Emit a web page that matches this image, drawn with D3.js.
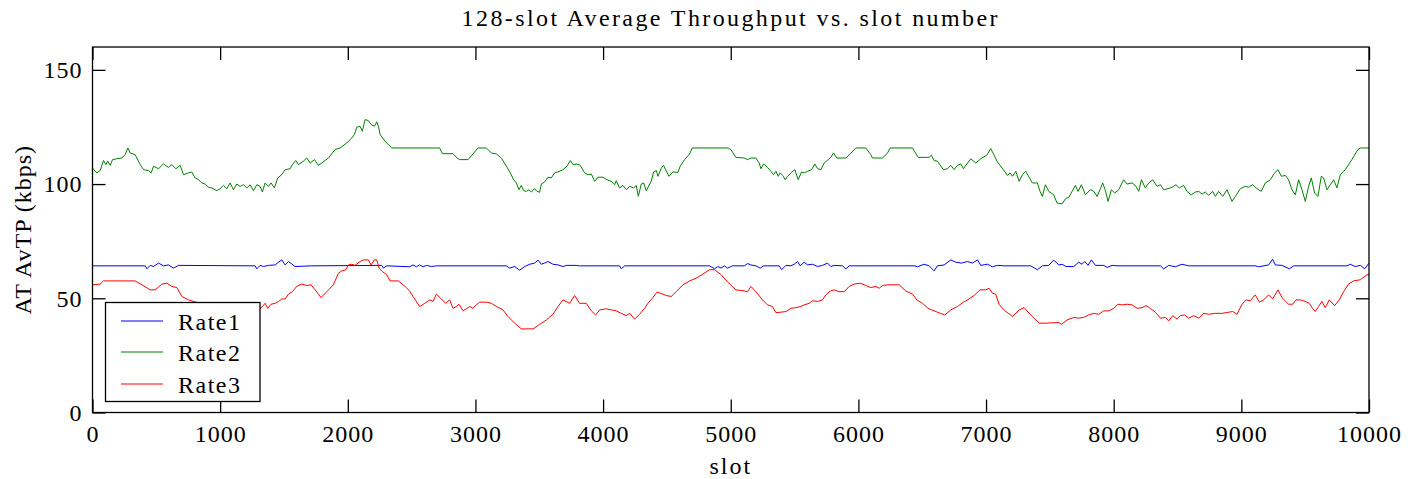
<!DOCTYPE html>
<html>
<head>
<meta charset="utf-8">
<script src="https://cdn.jsdelivr.net/npm/d3@7"></script>
<style>
  html, body { margin: 0; padding: 0; background: #fff; }
  svg { display: block; }
  text { font-family: "Liberation Serif", "Times New Roman", serif; fill: #000; }
</style>
</head>
<body>
<svg id="chart" width="1412" height="479"></svg>
<script>
// 128-slot average throughput per rate class, [slot, kbps]
const rate1 = [[0,64.2],[413,64.2],[426,62.9],[452,64.4],[478,63.9],[517,65.4],[556,64.2],[595,64.6],[635,63.2],[674,64.4],[1274,64.2],[1287,62.9],[1313,64.4],[1339,63.9],[1378,64.4],[1431,64.6],[1457,65.8],[1483,66.8],[1509,64.6],[1535,66.1],[1587,63.9],[1718,64.2],[2266,64.4],[2279,63.2],[2305,64.2],[2485,63.8],[2511,64.6],[2537,63.8],[2563,64.6],[2590,63.8],[2616,64.4],[2655,63.9],[2694,64.2],[3242,64.2],[3268,63.2],[3307,63.9],[3346,62.3],[3386,63.9],[3425,64.9],[3464,65.4],[3490,66.7],[3516,64.9],[3542,65.4],[3568,66.1],[3607,64.9],[3647,64.6],[3686,63.9],[3712,64.4],[3790,64.4],[3816,64.2],[4129,64.2],[4142,62.9],[4169,64.2],[4834,64.2],[4873,62.9],[4899,63.9],[4925,63.2],[4950,64.2],[4975,63.2],[5014,64.2],[5106,64.2],[5132,65.2],[5158,64.6],[5197,64.2],[5231,63.2],[5257,64.2],[5380,64.2],[5398,62.5],[5432,64.4],[5471,64.2],[5497,64.9],[5523,66.1],[5544,64.2],[5575,65.8],[5602,64.6],[5641,64.9],[5680,63.9],[5719,64.4],[5758,65.4],[5784,63.9],[5810,64.4],[5876,64.2],[5902,62.9],[5928,64.2],[6437,64.2],[6463,63.8],[6515,64.9],[6554,64.2],[6593,62.0],[6619,64.2],[6672,64.6],[6724,66.8],[6763,65.8],[6807,65.4],[6854,66.1],[6893,65.4],[6933,66.8],[6959,64.4],[7011,64.9],[7050,63.8],[7089,64.4],[7141,64.2],[7350,64.2],[7402,62.5],[7441,64.2],[7491,64.4],[7530,66.7],[7570,64.6],[7596,64.9],[7627,63.9],[7687,63.9],[7726,65.8],[7752,64.9],[7773,66.1],[7799,64.4],[7825,66.8],[7857,64.4],[7922,64.4],[7948,63.5],[7987,64.4],[8026,64.2],[8366,64.2],[8392,62.9],[8431,64.4],[8483,63.8],[8535,64.9],[8587,64.2],[9109,64.2],[9136,63.8],[9214,64.6],[9245,67.1],[9266,64.6],[9318,64.4],[9376,62.9],[9410,64.2],[9827,64.2],[9853,64.9],[9892,63.9],[9932,64.4],[9966,62.9],[10000,65.4]];

const rate2 = [[0,107.0],[34,104.9],[60,105.9],[86,110.3],[105,108.5],[120,110.0],[139,108.2],[157,110.7],[191,111.1],[230,111.4],[256,112.9],[277,115.8],[295,113.6],[334,112.9],[374,108.5],[400,106.3],[439,105.9],[460,104.9],[478,107.8],[517,106.7],[556,108.8],[595,107.3],[622,108.5],[653,106.7],[687,108.2],[713,104.1],[752,104.9],[778,105.3],[804,102.7],[830,101.9],[856,100.5],[883,100.0],[909,98.6],[935,98.3],[974,97.1],[1000,98.0],[1026,99.4],[1052,98.0],[1078,100.5],[1104,97.5],[1130,100.0],[1157,99.0],[1183,99.7],[1209,98.3],[1235,99.7],[1261,97.1],[1287,99.7],[1313,99.0],[1331,96.5],[1352,100.5],[1378,99.0],[1399,100.5],[1425,98.3],[1451,102.7],[1483,104.1],[1509,106.3],[1548,106.7],[1566,108.5],[1592,110.3],[1613,108.5],[1652,110.0],[1679,111.4],[1705,109.2],[1739,110.7],[1770,108.2],[1796,109.2],[1848,111.4],[1900,115.1],[1940,115.8],[1992,118.0],[2031,120.2],[2052,121.7],[2070,124.9],[2096,125.3],[2114,123.1],[2135,128.2],[2161,127.8],[2182,126.1],[2208,125.3],[2227,127.2],[2240,125.3],[2253,121.7],[2292,118.7],[2344,115.8],[2720,115.8],[2741,113.3],[2824,113.3],[2856,111.4],[2877,110.7],[2942,110.7],[2981,113.2],[3020,115.8],[3085,115.8],[3125,113.6],[3164,113.2],[3203,111.4],[3242,107.8],[3273,104.9],[3299,101.9],[3320,100.5],[3341,97.5],[3359,99.4],[3378,97.1],[3399,96.8],[3419,97.5],[3438,96.5],[3464,98.0],[3482,96.8],[3503,96.4],[3516,100.0],[3542,100.9],[3568,103.0],[3594,102.7],[3620,104.9],[3647,105.3],[3686,106.3],[3717,107.8],[3743,110.3],[3764,108.5],[3795,108.8],[3821,108.2],[3855,104.9],[3881,104.1],[3908,104.4],[3934,101.2],[3960,103.0],[3999,103.0],[4030,101.9],[4064,101.2],[4090,99.7],[4103,101.5],[4129,98.3],[4156,99.4],[4182,97.5],[4208,99.0],[4239,98.3],[4260,99.4],[4276,94.6],[4299,100.0],[4317,100.5],[4338,97.1],[4377,101.2],[4396,105.3],[4417,105.9],[4430,103.4],[4456,107.0],[4474,108.2],[4495,105.6],[4516,103.4],[4547,105.3],[4586,105.1],[4604,107.8],[4638,110.7],[4678,113.2],[4698,115.8],[4980,115.8],[5001,115.1],[5040,111.7],[5106,111.4],[5132,110.7],[5158,111.4],[5197,111.4],[5223,109.2],[5236,106.7],[5257,108.8],[5288,107.3],[5314,105.6],[5335,104.1],[5354,105.6],[5372,103.4],[5387,104.9],[5406,103.8],[5427,101.9],[5445,103.4],[5471,104.9],[5502,106.3],[5528,101.9],[5555,105.3],[5575,104.9],[5602,105.6],[5633,106.3],[5659,108.8],[5680,106.7],[5706,106.3],[5732,109.2],[5763,110.7],[5784,111.7],[5805,113.6],[5831,111.4],[5902,111.4],[5941,113.6],[5980,115.8],[6058,115.8],[6097,112.9],[6110,111.4],[6189,111.4],[6228,113.6],[6249,115.8],[6424,115.8],[6468,111.7],[6554,111.7],[6572,112.6],[6593,110.3],[6619,110.0],[6666,106.3],[6698,106.7],[6724,108.2],[6750,106.3],[6776,108.2],[6802,108.8],[6823,106.7],[6880,111.1],[6920,109.2],[6959,111.1],[7006,112.6],[7037,115.5],[7058,113.2],[7089,109.7],[7136,106.3],[7168,103.8],[7188,104.9],[7207,103.4],[7233,105.6],[7259,101.2],[7285,104.1],[7311,105.6],[7337,103.0],[7363,100.5],[7402,100.5],[7423,96.8],[7441,94.6],[7465,99.7],[7491,96.8],[7530,95.3],[7556,91.7],[7596,91.3],[7622,93.6],[7648,94.2],[7674,96.8],[7700,99.4],[7721,96.8],[7747,99.7],[7778,95.3],[7817,97.5],[7844,96.8],[7870,94.6],[7896,98.0],[7914,100.5],[7935,97.1],[7956,92.4],[7982,97.5],[8008,96.1],[8039,97.5],[8078,101.9],[8105,100.0],[8144,100.5],[8175,99.0],[8196,96.8],[8217,101.9],[8248,98.3],[8274,100.5],[8306,101.9],[8339,99.0],[8366,99.7],[8392,97.5],[8426,98.0],[8457,98.6],[8488,99.7],[8514,98.3],[8548,99.4],[8574,96.8],[8608,95.3],[8640,96.5],[8666,96.8],[8692,95.6],[8718,96.5],[8744,95.1],[8775,96.8],[8796,94.6],[8822,96.8],[8854,94.6],[8888,97.5],[8927,92.4],[8953,94.6],[8992,98.0],[9031,99.0],[9057,98.6],[9089,99.7],[9122,98.0],[9156,96.8],[9188,100.5],[9227,101.9],[9261,104.9],[9287,106.3],[9313,103.4],[9344,103.8],[9370,101.9],[9397,97.5],[9423,95.3],[9449,101.9],[9475,97.5],[9501,92.4],[9527,99.0],[9548,102.7],[9574,96.1],[9600,94.6],[9626,103.4],[9644,102.7],[9671,97.5],[9697,99.7],[9723,101.9],[9749,98.3],[9775,104.1],[9814,106.3],[9866,110.7],[9913,115.1],[9932,115.8],[10000,115.8]];

const rate3 = [[0,55.9],[60,56.2],[86,57.6],[334,57.6],[387,55.9],[452,53.7],[491,53.7],[543,56.2],[582,56.6],[622,55.2],[661,54.7],[700,50.8],[752,49.3],[800,48.5],[900,47.0],[1050,45.5],[1200,44.5],[1300,45.0],[1313,45.6],[1331,46.4],[1352,47.8],[1373,45.6],[1399,47.4],[1431,47.8],[1457,48.6],[1483,49.7],[1509,49.7],[1535,51.8],[1566,52.9],[1600,55.2],[1639,56.2],[1679,55.6],[1712,55.9],[1744,53.7],[1791,50.3],[1835,52.9],[1887,55.9],[1927,61.0],[1953,62.0],[1984,62.5],[2005,64.6],[2031,64.9],[2057,64.4],[2096,66.1],[2122,66.8],[2161,66.8],[2182,64.6],[2208,66.8],[2227,66.8],[2245,63.2],[2271,61.7],[2305,60.3],[2331,57.6],[2396,57.6],[2459,54.7],[2488,52.9],[2511,50.8],[2563,46.4],[2603,47.8],[2642,49.3],[2668,48.6],[2694,51.8],[2733,49.7],[2767,47.8],[2798,49.3],[2824,45.6],[2851,46.4],[2871,47.4],[2903,44.5],[2929,45.4],[2955,46.4],[2981,45.6],[3007,47.1],[3033,48.3],[3085,48.3],[3125,47.8],[3164,46.4],[3216,44.9],[3255,42.0],[3307,39.1],[3359,36.6],[3451,36.6],[3503,38.6],[3555,40.5],[3607,43.0],[3647,46.4],[3686,49.3],[3738,47.8],[3777,51.2],[3816,47.8],[3868,47.8],[3908,44.5],[3942,42.7],[3973,44.9],[4025,45.4],[4064,44.9],[4103,44.5],[4142,43.4],[4182,42.4],[4208,43.4],[4247,40.9],[4286,43.0],[4325,45.6],[4351,47.8],[4390,50.3],[4422,52.7],[4469,51.8],[4495,51.2],[4534,50.8],[4573,52.9],[4625,55.9],[4678,57.6],[4730,58.8],[4782,60.6],[4834,62.5],[4873,62.5],[4925,60.3],[4978,57.0],[5040,53.7],[5106,53.2],[5132,52.9],[5158,55.2],[5197,52.9],[5249,49.3],[5288,47.1],[5327,46.4],[5354,43.7],[5393,43.9],[5432,44.2],[5471,45.6],[5510,45.9],[5549,46.4],[5575,47.1],[5615,47.8],[5641,48.9],[5680,48.6],[5719,49.3],[5745,51.5],[5779,53.2],[5810,53.7],[5849,52.9],[5889,52.9],[5928,55.2],[5967,56.2],[6014,56.6],[6058,55.6],[6097,54.7],[6137,55.2],[6163,54.4],[6189,55.6],[6228,55.9],[6319,55.9],[6371,53.2],[6424,51.8],[6458,49.3],[6502,47.8],[6546,45.6],[6619,43.9],[6677,42.7],[6724,44.9],[6776,46.4],[6823,48.3],[6867,49.7],[6912,51.5],[6953,53.7],[6998,53.7],[7024,54.4],[7050,52.2],[7076,51.8],[7102,47.4],[7141,44.9],[7207,42.0],[7259,44.9],[7298,45.9],[7350,42.7],[7415,39.1],[7468,39.1],[7570,39.4],[7590,38.6],[7635,40.5],[7687,41.6],[7726,41.3],[7765,41.6],[7804,42.7],[7844,43.4],[7883,43.0],[7922,44.5],[7961,44.5],[8000,45.6],[8034,47.4],[8065,47.1],[8105,47.4],[8144,47.1],[8183,45.6],[8222,45.9],[8253,46.8],[8287,45.6],[8326,43.9],[8366,41.3],[8405,41.6],[8431,40.1],[8462,42.4],[8496,40.9],[8522,42.4],[8556,42.7],[8587,41.3],[8627,42.4],[8666,41.3],[8705,43.4],[8744,43.0],[8796,43.4],[8848,43.4],[8901,43.9],[8932,44.2],[8966,43.0],[9005,47.4],[9036,49.3],[9070,48.9],[9109,51.5],[9141,48.3],[9175,49.3],[9214,51.5],[9245,49.7],[9287,53.7],[9318,50.3],[9370,47.4],[9402,47.4],[9428,49.3],[9462,49.3],[9501,48.6],[9532,47.8],[9558,45.6],[9579,44.2],[9605,46.4],[9631,48.6],[9657,45.9],[9689,49.3],[9731,46.8],[9767,49.3],[9801,52.9],[9840,56.2],[9879,57.6],[9932,58.1],[9984,60.3],[10000,60.3]];

const seriesNames = ["Rate1", "Rate2", "Rate3"];
const seriesColors = ["#0000ff", "#008000", "#ff0000"];
const xTicks = [0, 1000, 2000, 3000, 4000, 5000, 6000, 7000, 8000, 9000, 10000];
const yTicks = [0, 50, 100, 150];
const titleText = "128-slot Average Throughput vs. slot number";
const xLabel = "slot";
const yLabel = "AT AvTP (kbps)";

const svg = d3.select("#chart");
const plot = { left: 92.5, right: 1369, top: 47, bottom: 412.5 };

const x = d3.scaleLinear().domain([0, 10000]).range([plot.left, plot.right]);
const y = d3.scaleLinear().domain([0, 160]).range([plot.bottom, plot.top]);

const tickLen = 13;
const fontSize = 24;

// axes with inward ticks on all four sides
const gx = svg.append("g").attr("transform", `translate(0,${plot.bottom})`)
  .call(d3.axisBottom(x).tickValues(xTicks).tickFormat(d3.format("d"))
    .tickSizeInner(-tickLen).tickSizeOuter(0).tickPadding(12));
const gxTop = svg.append("g").attr("transform", `translate(0,${plot.top})`)
  .call(d3.axisTop(x).tickValues(xTicks).tickFormat("")
    .tickSizeInner(-tickLen).tickSizeOuter(0));
const gy = svg.append("g").attr("transform", `translate(${plot.left},0)`)
  .call(d3.axisLeft(y).tickValues(yTicks).tickFormat(d3.format("d"))
    .tickSizeInner(-tickLen).tickSizeOuter(0).tickPadding(10));
const gyRight = svg.append("g").attr("transform", `translate(${plot.right},0)`)
  .call(d3.axisRight(y).tickValues(yTicks).tickFormat("")
    .tickSizeInner(-tickLen).tickSizeOuter(0));

[gx, gxTop, gy, gyRight].forEach(g => {
  g.select(".domain").remove();
  g.selectAll(".tick line").attr("stroke", "#000").attr("stroke-width", 1.3);
  g.selectAll(".tick text")
    .attr("font-family", '"Liberation Serif", "Times New Roman", serif')
    .attr("font-size", fontSize)
    .attr("letter-spacing", 1)
    .attr("fill", "#000");
});
gy.selectAll(".tick text").attr("dy", "0.33em");

// data lines, clipped to the plot box
svg.append("clipPath").attr("id", "plot-clip")
  .append("rect")
  .attr("x", plot.left).attr("y", plot.top)
  .attr("width", plot.right - plot.left).attr("height", plot.bottom - plot.top);

const line = d3.line().x(d => x(d[0])).y(d => y(d[1]));
const series = [rate1, rate2, rate3];
const gLines = svg.append("g").attr("clip-path", "url(#plot-clip)");
series.forEach((data, i) => {
  gLines.append("path")
    .datum(data)
    .attr("fill", "none")
    .attr("stroke", seriesColors[i])
    .attr("stroke-width", 1)
    .attr("stroke-linejoin", "round")
    .attr("d", line);
});

// plot frame
svg.append("rect")
  .attr("x", plot.left).attr("y", plot.top)
  .attr("width", plot.right - plot.left).attr("height", plot.bottom - plot.top)
  .attr("fill", "none").attr("stroke", "#000").attr("stroke-width", 1.3);

// title and axis labels
svg.append("text")
  .attr("x", (plot.left + plot.right) / 2).attr("y", 26)
  .attr("text-anchor", "middle").attr("font-size", fontSize)
  .attr("letter-spacing", 2.4)
  .text(titleText);

svg.append("text")
  .attr("x", (plot.left + plot.right) / 2).attr("y", 474)
  .attr("text-anchor", "middle").attr("font-size", fontSize)
  .attr("letter-spacing", 2)
  .text(xLabel);

svg.append("text")
  .attr("transform", `translate(31,${(plot.top + plot.bottom) / 2}) rotate(-90)`)
  .attr("text-anchor", "middle").attr("font-size", fontSize)
  .attr("letter-spacing", 1)
  .text(yLabel);

// legend
const legend = svg.append("g");
legend.append("rect")
  .attr("x", 105.5).attr("y", 302.5).attr("width", 154.5).attr("height", 99)
  .attr("fill", "#fff").attr("stroke", "#000").attr("stroke-width", 1.3);
const rowY = [321, 352, 384];
seriesNames.forEach((name, i) => {
  legend.append("line")
    .attr("x1", 121).attr("x2", 163)
    .attr("y1", rowY[i]).attr("y2", rowY[i])
    .attr("stroke", seriesColors[i]).attr("stroke-width", 1);
  legend.append("text")
    .attr("x", 178).attr("y", rowY[i] + 8.5)
    .attr("font-size", fontSize).attr("letter-spacing", 1.5)
    .text(name);
});
</script>
</body>
</html>
